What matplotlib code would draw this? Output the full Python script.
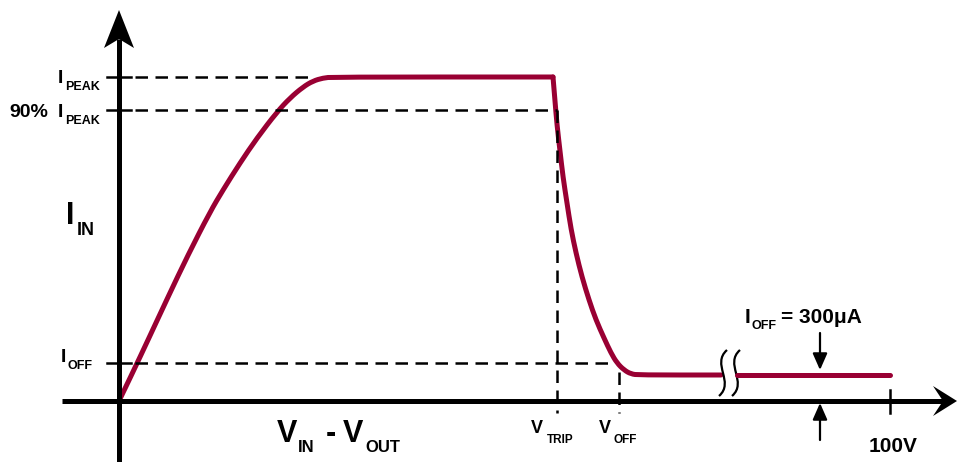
import matplotlib
matplotlib.use('Agg')
import matplotlib.pyplot as plt
from matplotlib.patches import Polygon, PathPatch
from matplotlib.path import Path

# schematic units: x = V_IN - V_OUT, y = I_IN (arbitrary)
I_PEAK = 324
I_90 = 291
I_OFF_LEVEL = 38
I_FLAT = 26
V_TRIP = 438
V_OFF = 500
V_MAX = 771
BREAK = [602, 618]

rise_x = [0, 13, 29, 49, 69, 91, 104, 121, 138, 158, 171, 184, 194, 204, 214, 434]
rise_y = [0, 27, 61, 104, 146, 189, 211, 238, 263, 289, 303, 314, 320, 323, 324, 324]
drop_x = [434, 436, 438, 441, 444, 448, 452, 457, 463, 470, 477, 485, 492,
          498, 505, 512, 520, BREAK[0]]
drop_y = [324, 300, 276, 250, 224, 198, 172, 148, 124, 101, 81, 63, 48,
          38, 31, 27, 26, 26]
tail_x = [BREAK[1], V_MAX]
tail_y = [I_FLAT, I_FLAT]

RED = '#990033'
FONT = 'Liberation Sans'

fig = plt.figure(figsize=(9.59, 4.62), dpi=100)
ax = fig.add_axes([0, 0, 1, 1])
ax.set_xlim(-119, 840)
ax.set_ylim(-61, 401)
ax.axis('off')


def smooth_path(xs, ys):
    # quadratic b-spline style path through the read points (points act as controls)
    pts = list(zip(xs, ys))
    verts = [pts[0]]
    codes = [Path.MOVETO]
    for i in range(1, len(pts) - 1):
        mid = ((pts[i][0] + pts[i + 1][0]) / 2, (pts[i][1] + pts[i + 1][1]) / 2)
        verts += [pts[i], mid]
        codes += [Path.CURVE3, Path.CURVE3]
    verts.append(pts[-1])
    codes.append(Path.LINETO)
    return Path(verts, codes)


# axes lines + arrow heads
ax.plot([0, 0], [-61, 362], color='black', lw=3.6, solid_capstyle='butt')
ax.plot([-57, 824], [0, 0], color='black', lw=3.6, solid_capstyle='butt')
ax.add_patch(Polygon([(0, 391), (-15, 353), (0, 362), (15, 353)], closed=True,
                     color='black', lw=0))
ax.add_patch(Polygon([(838, 0), (814, 15), (824, 0), (814, -15)], closed=True,
                     color='black', lw=0))

# y ticks
for lvl in [I_PEAK, I_90, I_OFF_LEVEL]:
    ax.plot([-12, 12], [lvl, lvl], color='black', lw=1.8)

dash = dict(color='black', lw=1.8, dashes=(5, 3))
ax.plot([16, 190], [I_PEAK, I_PEAK], **dash)
ax.plot([16, V_TRIP], [I_90, I_90], **dash)
ax.plot([16, V_OFF - 5], [I_OFF_LEVEL, I_OFF_LEVEL], **dash)
ax.plot([V_TRIP, V_TRIP], [I_90, -12], **dash)
ax.plot([V_OFF, V_OFF], [29, -12], **dash)
ax.plot([V_MAX, V_MAX], [11, -12], color='black', lw=1.8)

# curve
for xs, ys in [(rise_x, rise_y), (drop_x, drop_y)]:
    ax.add_patch(PathPatch(smooth_path(xs, ys), fill=False, lw=3.6,
                           edgecolor=RED, joinstyle='round', capstyle='round'))
ax.plot(tail_x, tail_y, color=RED, lw=3.6, solid_capstyle='round')

# break marks
for xc in [BREAK[0] + 2, BREAK[1] - 1]:
    top, bot = 51, 5
    verts = [(xc + 4, top), (xc - 12, top - 14), (xc + 12, bot + 14), (xc - 4, bot)]
    codes = [Path.MOVETO, Path.CURVE4, Path.CURVE4, Path.CURVE4]
    ax.add_patch(PathPatch(Path(verts, codes), fill=False, lw=1.6, color='black'))

# I_OFF arrows
arrow = dict(arrowstyle='-|>,head_length=0.5,head_width=0.22', color='black',
             lw=1.6, shrinkA=0, shrinkB=0, mutation_scale=20)
ax.annotate('', xy=(701, 31), xytext=(701, 68), arrowprops=arrow)
ax.annotate('', xy=(701, -2), xytext=(701, -39), arrowprops=arrow)


def txt(x, y, s, size):
    ax.text(x - 119, 401 - y, s, fontsize=size, fontweight='bold',
            family=FONT, ha='left', va='baseline')


# labels (pixel-based placement of each text piece)
txt(58, 83, 'I', 14)
txt(65, 90, 'PEAK', 9)
txt(9, 117, '90%', 14)
txt(58, 117, 'I', 14)
txt(65, 124, 'PEAK', 9)
txt(61, 362, 'I', 14)
txt(68, 369, 'OFF', 9)
txt(66, 224, 'I', 22)
txt(77, 235, 'IN', 13)
txt(277, 442, 'V', 22)
txt(298, 452, 'IN', 12)
txt(326, 442, '-', 22)
txt(343, 442, 'V', 22)
txt(365, 452, 'OUT', 12)
txt(531, 433, 'V', 13)
txt(547, 443, 'TRIP', 8.5)
txt(599, 433, 'V', 13)
txt(614, 443, 'OFF', 8.5)
txt(869, 452, '100V', 15)
txt(745, 323, 'I', 15)
txt(752, 329, 'OFF', 9)
txt(781, 323, '= 300μA', 15)

fig.savefig('out.png', dpi=100)
